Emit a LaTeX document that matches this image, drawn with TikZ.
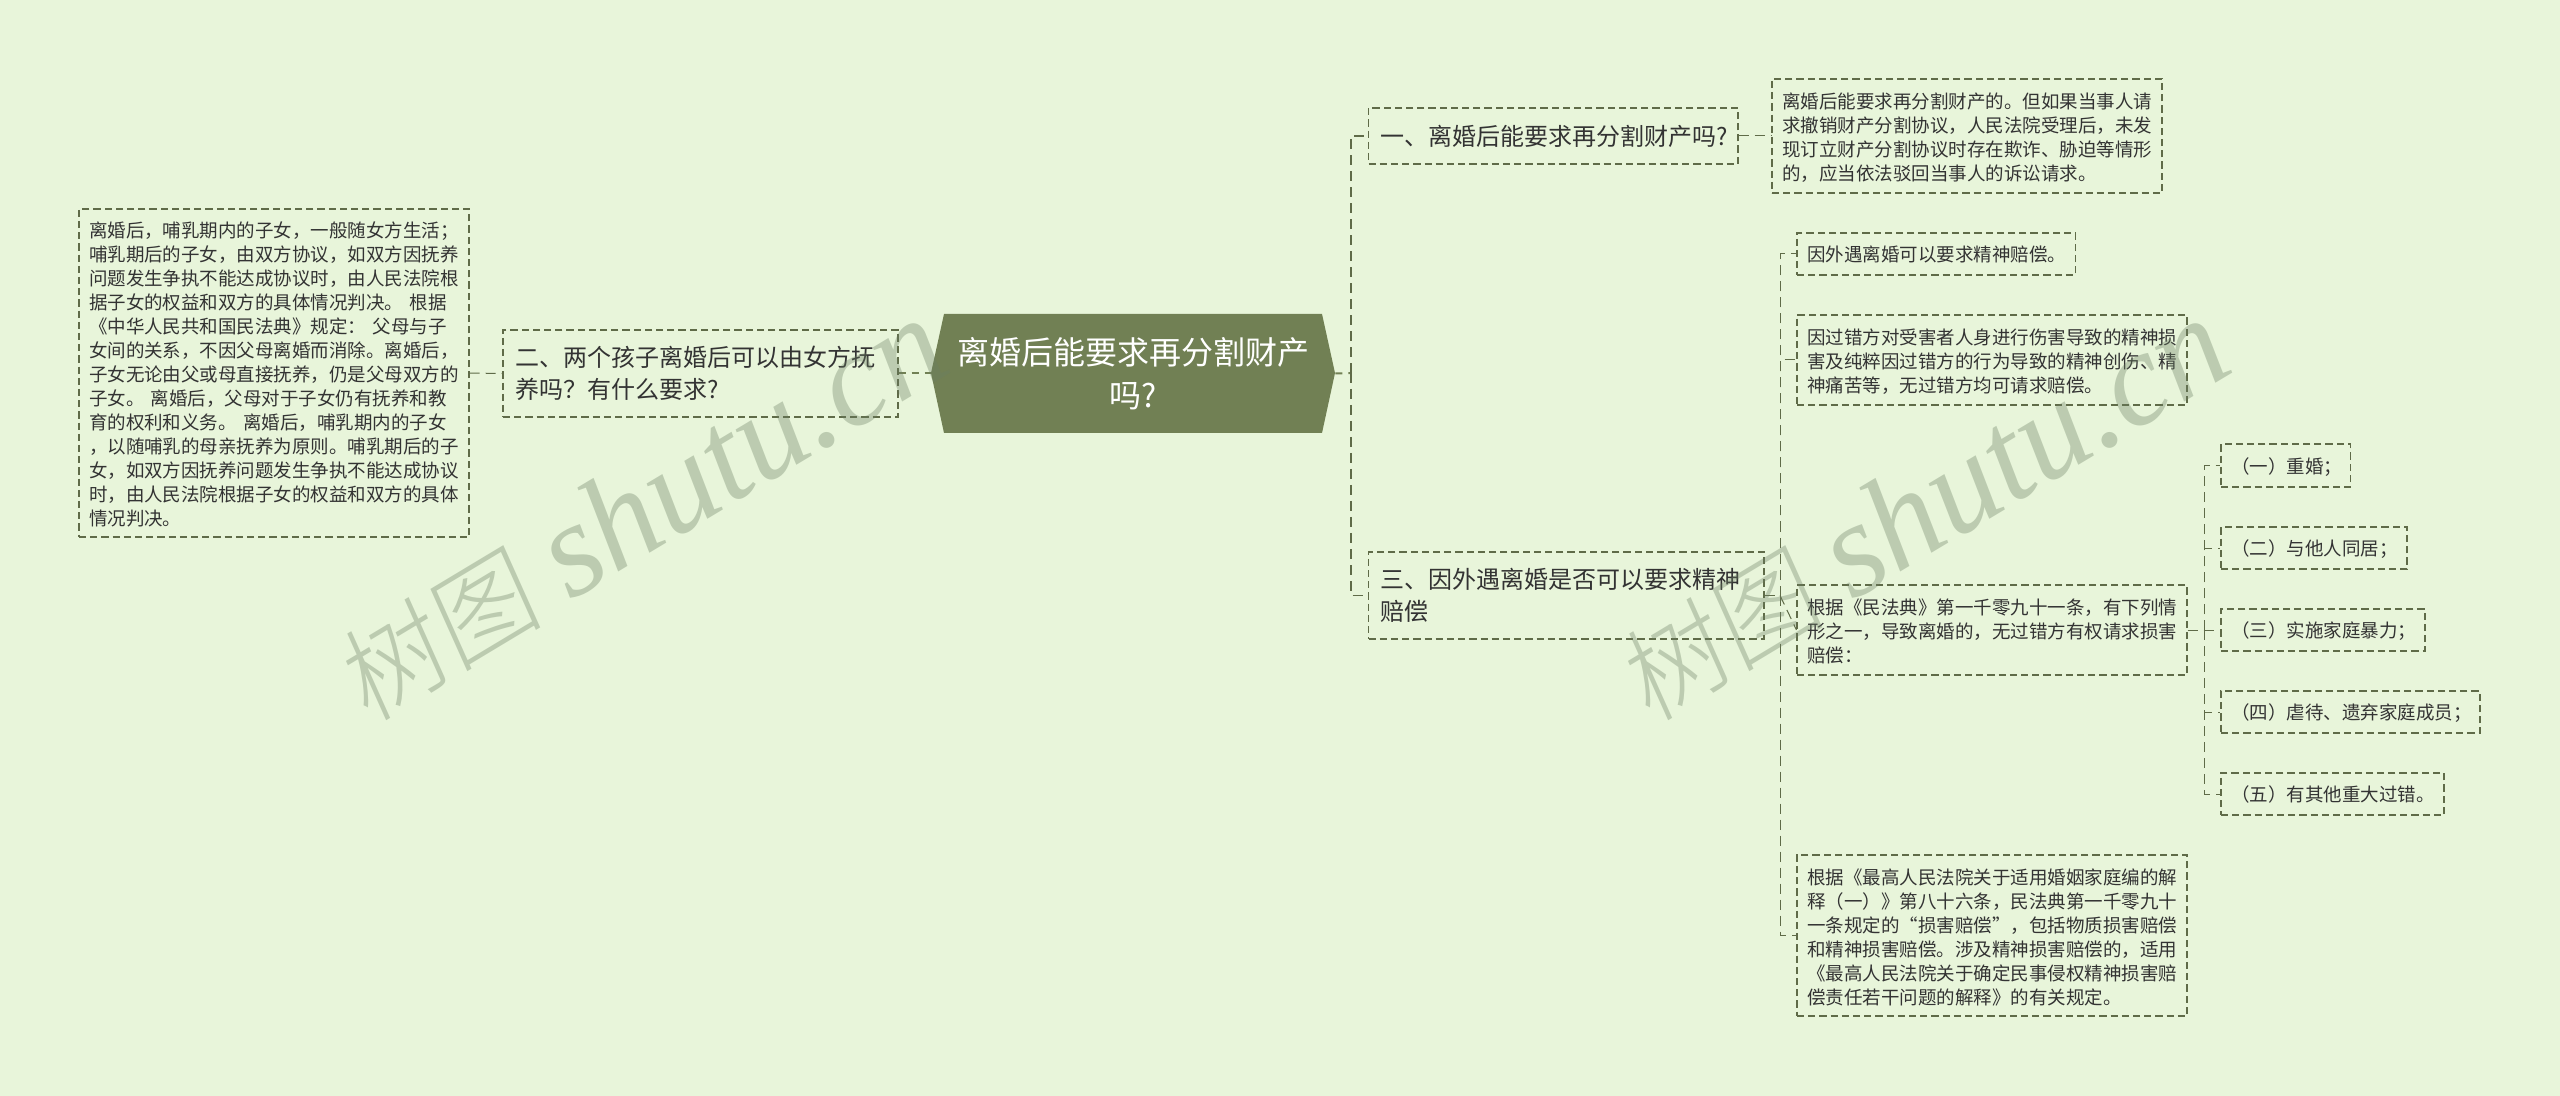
\documentclass[tikz,border=0pt]{standalone}
\usepackage{fontspec}
\setmainfont{Noto Sans CJK SC}
\newfontfamily\wmcjk[FakeSlant=0.12]{Noto Sans CJK SC Light}
\newfontfamily\wmlat{Liberation Serif}
\definecolor{bgc}{HTML}{E8F5DA}
\definecolor{rootc}{HTML}{718054}
\definecolor{linec}{HTML}{5F6B48}
\definecolor{txt}{HTML}{333333}
\definecolor{wm}{HTML}{6B7F63}
\tikzset{
  boxbase/.style={draw=linec,line width=.55pt,dash pattern=on 3.6pt off 2pt,text=txt,align=left,inner ysep=0pt,anchor=center},
  smallbox/.style={boxbase,font=\fontsize{9.25}{12}\selectfont,execute at end node={\vspace{-1.5pt}}},
  midbox/.style={boxbase,font=\fontsize{12}{16}\selectfont},
  rootnode/.style={text=white,align=center,font=\fontsize{16}{21.5}\selectfont,inner sep=0pt,minimum width=202pt,minimum height=59.5pt},
  conn/.style={draw=linec,line width=.5pt,dash pattern=on 5pt off 3pt},
  rootconn/.style={draw=rootc,line width=1pt,dash pattern=on 3.5pt off 3pt},
  watermark/.style={text=wm,opacity=.35,rotate=31,inner sep=0pt,anchor=center}
}
\newcommand\bx[8]{%
  \node[#6,minimum width={(#4-#2)*0.5pt},minimum height={(#5-#3)*0.5pt},text width={(#4-#2-2*#7)*0.5pt},inner xsep={#7*0.5pt}] (#1) at ({(#2+#4)/2},{(#3+#5)/2}) {#8};}
\begin{document}
\begin{tikzpicture}[x=0.5pt,y=-0.5pt]
\useasboundingbox[fill=bgc] (0,0) rectangle (2560,1096);
% central topic
\fill[rootc] (931,373)--(944,314)--(1322,314)--(1335,373)--(1322,433)--(944,433)--cycle;
\node[rootnode] (root) at (1133,373.5) {离婚后能要求再分割财产\\吗?};
% first level
\bx{one}{1368.5}{108}{1738}{164}{midbox}{12}{一、离婚后能要求再分割财产吗?}
\bx{two}{503}{330}{898}{417}{midbox}{12}{二、两个孩子离婚后可以由女方抚\\养吗？有什么要求?}
\bx{three}{1368.5}{552}{1764}{639}{midbox}{12}{三、因外遇离婚是否可以要求精神\\赔偿}
% left leaf
\bx{leftleaf}{79}{209}{469}{537}{smallbox}{10}{离婚后，哺乳期内的子女，一般随女方生活；\\哺乳期后的子女，由双方协议，如双方因抚养\\问题发生争执不能达成协议时，由人民法院根\\据子女的权益和双方的具体情况判决。 根据\\《中华人民共和国民法典》规定： 父母与子\\女间的关系，不因父母离婚而消除。离婚后，\\子女无论由父或母直接抚养，仍是父母双方的\\子女。 离婚后，父母对于子女仍有抚养和教\\育的权利和义务。 离婚后，哺乳期内的子女\\，以随哺乳的母亲抚养为原则。哺乳期后的子\\女，如双方因抚养问题发生争执不能达成协议\\时，由人民法院根据子女的权益和双方的具体\\情况判决。}
% right leaves
\bx{oneleaf}{1772}{79}{2162}{193}{smallbox}{10}{离婚后能要求再分割财产的。但如果当事人请\\求撤销财产分割协议，人民法院受理后，未发\\现订立财产分割协议时存在欺诈、胁迫等情形\\的，应当依法驳回当事人的诉讼请求。}
\bx{ta}{1797}{233}{2075.5}{275}{smallbox}{10}{因外遇离婚可以要求精神赔偿。}
\bx{tb}{1797}{315}{2187}{405}{smallbox}{10}{因过错方对受害者人身进行伤害导致的精神损\\害及纯粹因过错方的行为导致的精神创伤、精\\神痛苦等，无过错方均可请求赔偿。}
\bx{tc}{1797}{585}{2187}{675}{smallbox}{10}{根据《民法典》第一千零九十一条，有下列情\\形之一，导致离婚的，无过错方有权请求损害\\赔偿：}
\bx{td}{1797}{855}{2187}{1016}{smallbox}{10}{根据《最高人民法院关于适用婚姻家庭编的解\\释（一）》第八十六条，民法典第一千零九十\\一条规定的“损害赔偿”，包括物质损害赔偿\\和精神损害赔偿。涉及精神损害赔偿的，适用\\《最高人民法院关于确定民事侵权精神损害赔\\偿责任若干问题的解释》的有关规定。}
% items
\bx{ia}{2221}{444}{2350.5}{487}{smallbox}{10}{（一）重婚；}
\bx{ib}{2221}{527}{2407}{569}{smallbox}{10}{（二）与他人同居；}
\bx{ic}{2221}{609}{2425}{651}{smallbox}{10}{（三）实施家庭暴力；}
\bx{id}{2221}{691}{2480}{733}{smallbox}{10}{（四）虐待、遗弃家庭成员；}
\bx{ie}{2221}{773}{2444}{815}{smallbox}{10}{（五）有其他重大过错。}
% junctions
\coordinate (jr) at (1351,373);
\coordinate (jt) at (1780,595.5);
\coordinate (ji) at (2204,630);
% connectors
\draw[rootconn] (root.east) -- (jr);
\draw[rootconn] (two.east) -- (root.west);
\draw[conn,line width=.9pt] (jr) |- (one.west);
\draw[conn,line width=.9pt] (jr) |- (three.west);
\draw[conn] (one.east) -- (oneleaf.west);
\draw[conn] (leftleaf.east) -- (two.west);
\draw[conn] (three.east) -- (jt);
\draw[conn] (jt) |- (ta.west);
\draw[conn] (jt) |- (tb.west);
\draw[conn] (jt) -- (tc.west);
\draw[conn] (jt) |- (td.west);
\draw[conn] (tc.east) -- (ji);
\draw[conn] (ji) |- (ia.west);
\draw[conn] (ji) |- (ib.west);
\draw[conn] (ji) -- (ic.west);
\draw[conn] (ji) |- (id.west);
\draw[conn] (ji) |- (ie.west);
% watermarks
\node[watermark] (wma) at (640,510) {{\fontsize{52}{60}\selectfont\wmcjk 树图}\hspace{14pt}{\fontsize{67}{70}\selectfont\wmlat\itshape shutu.cn}};
\node[watermark] (wmb) at (1922,510) {{\fontsize{52}{60}\selectfont\wmcjk 树图}\hspace{14pt}{\fontsize{67}{70}\selectfont\wmlat\itshape shutu.cn}};
\end{tikzpicture}
\end{document}
